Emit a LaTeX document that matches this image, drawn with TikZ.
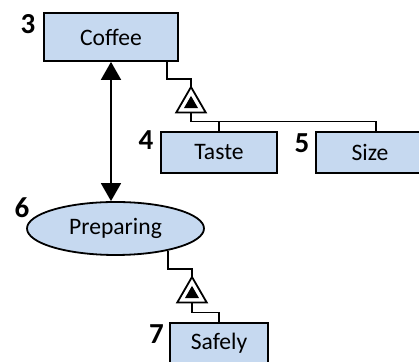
\documentclass[tikz,border=0pt]{standalone}
\usepackage{fontspec}
\setmainfont{Carlito}
\usetikzlibrary{shapes, arrows.meta, positioning, calc}
\definecolor{opmblue}{HTML}{C6D9F0}
\tikzset{
    thing_box/.style={draw, rectangle, line width=0.9pt, fill=opmblue, inner sep=0pt, font=\fontsize{11.8}{14}\selectfont},
    proc_ellipse/.style={draw, ellipse, line width=0.9pt, fill=opmblue, inner sep=0pt, minimum width=88.5pt, minimum height=26.5pt, font=\fontsize{11.8}{14}\selectfont},
    tri_outer/.style={draw, regular polygon, regular polygon sides=3, line width=0.9pt, fill=white, inner sep=0pt, outer sep=0pt, minimum size=17pt},
    tri_inner/.style={regular polygon, regular polygon sides=3, fill=black, inner sep=0pt, outer sep=0pt, minimum size=8.1pt},
    num_label/.style={font=\fontsize{14.5}{17}\selectfont\bfseries, inner sep=0pt},
    link/.style={line width=0.9pt},
    arrow/.style={line width=0.9pt, {Triangle[length=9pt,width=10pt]}-{Triangle[length=9pt,width=10pt]}}
}

\begin{document}
\begin{tikzpicture}[x=0.5pt, y=-0.5pt]
    \useasboundingbox (0,0) rectangle (419,362);
    \clip (0,0) rectangle (419,362);

    % Objects and process
    \node[thing_box, minimum width=67pt, minimum height=24pt] (coffee) at (111,37) {Coffee};
    \node[thing_box, minimum width=58pt, minimum height=20.5pt] (taste) at (219,152.5) {Taste};
    \node[thing_box, minimum width=54pt, minimum height=20.5pt] (size) at (370,152.5) {Size};
    \node[proc_ellipse] (prep) at (115.5,228.5) {Preparing};
    \node[thing_box, minimum width=49pt, minimum height=20pt] (safely) at (219,343) {Safely};

    % Exhibition triangles
    \node[tri_outer] (tri1) at (191,104) {};
    \node[tri_inner] (tri1in) at (tri1.center) {};
    \node[tri_outer] (tri2) at (192,294) {};
    \node[tri_inner] (tri2in) at (tri2.center) {};

    % Numbers
    \node[num_label] (n3) at (28,24) {3};
    \node[num_label] (n4) at (146,140.5) {4};
    \node[num_label] (n5) at (302,143) {5};
    \node[num_label] (n6) at (22,208) {6};
    \node[num_label] (n7) at (156.5,334.5) {7};

    % Connections
    \draw[arrow] (coffee.south) -- (coffee.south |- prep.north);

    \draw[link] ([xshift=-6pt]coffee.south east) -- ++(0,-8.5pt) -| (tri1.north);
    \coordinate (bar1) at ($(tri1.south)+(0,-4.5pt)$);
    \draw[link] (tri1.south) -- (bar1) -| ([xshift=3pt]size.north);
    \draw[link] (bar1 -| taste.north) -- (taste.north);

    \draw[link] (prep.-23) -- ++(0,-9pt) -| (tri2.north);
    \draw[link] (tri2.south) -- ++(0,-5pt) -| (safely.north);

\end{tikzpicture}
\end{document}
